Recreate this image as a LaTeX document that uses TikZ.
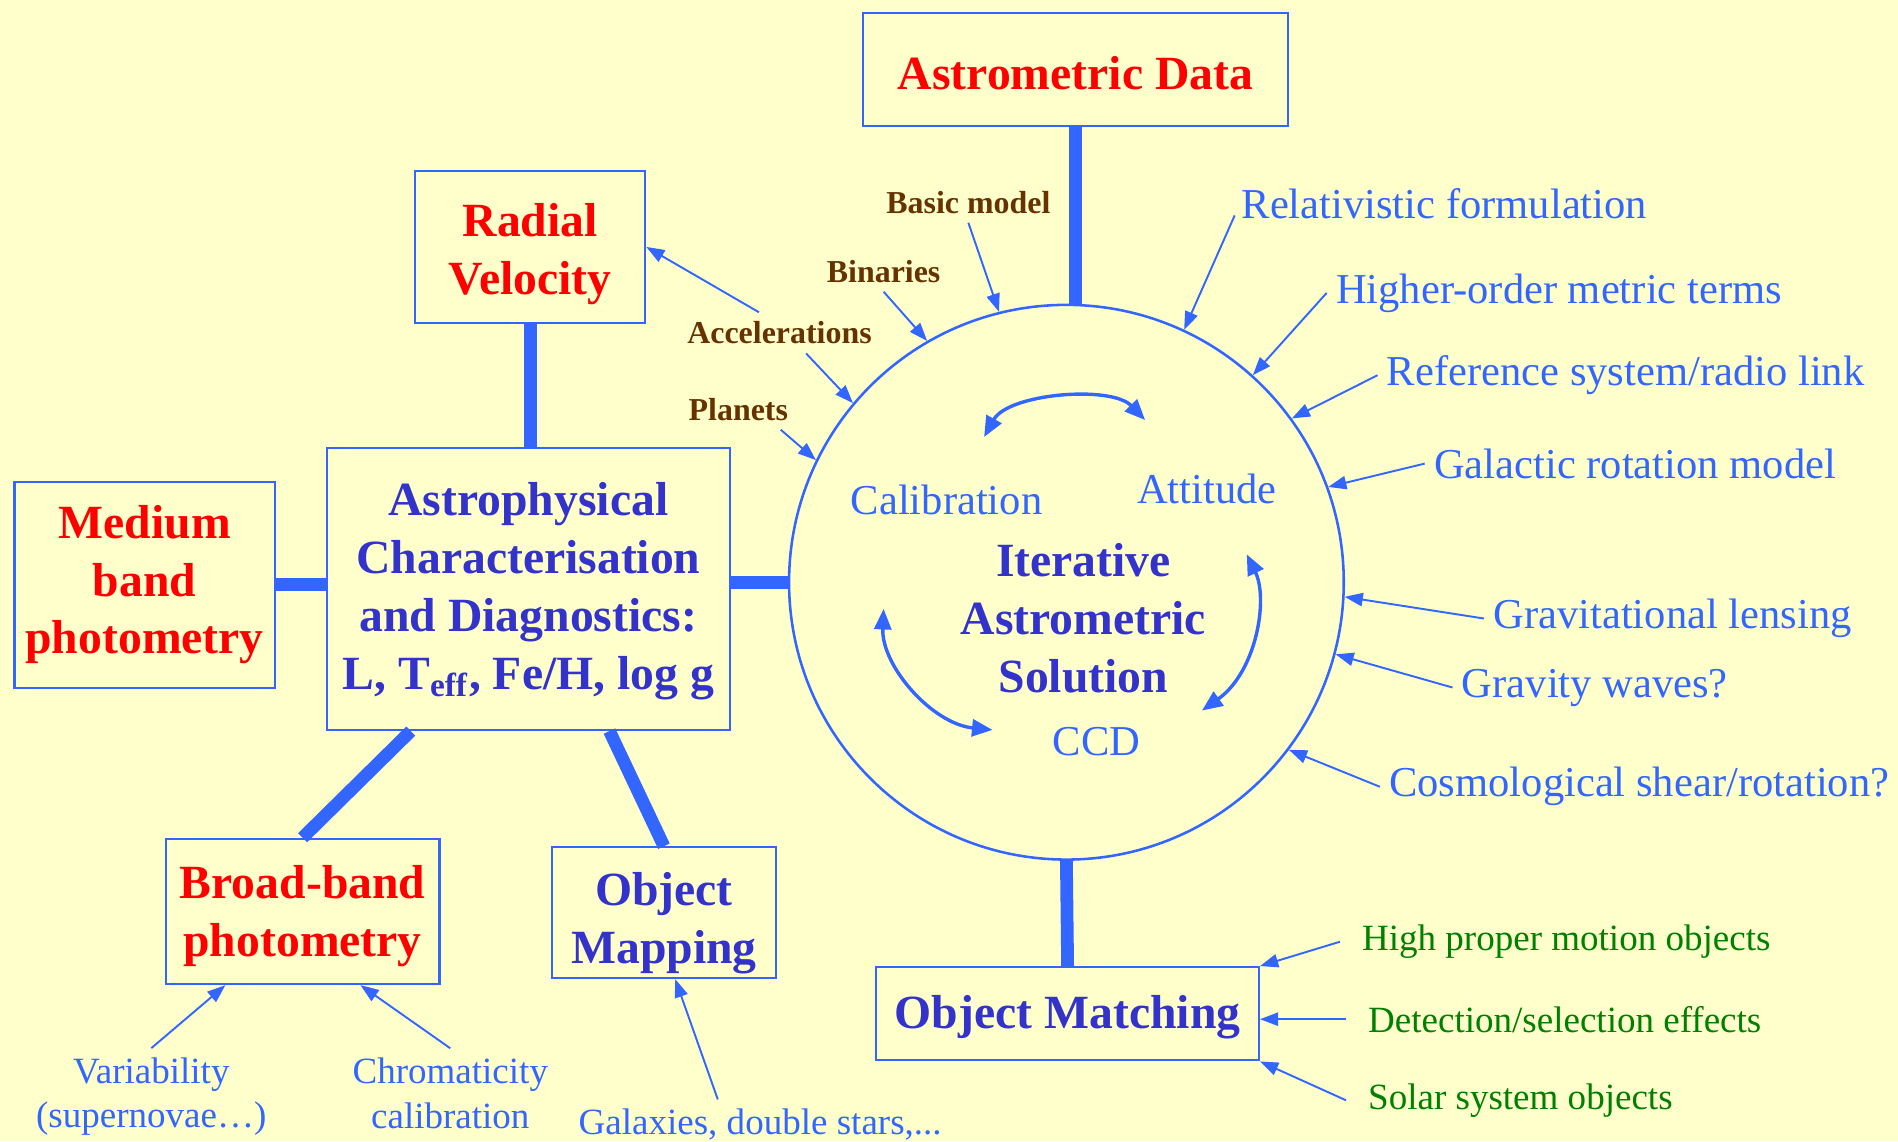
\documentclass[tikz,border=0pt]{standalone}
\usepackage{fontspec}
\setmainfont{Liberation Serif}
\usepackage{tikz}
\usetikzlibrary{arrows.meta,calc}

\definecolor{paper}{RGB}{255,255,204}
\definecolor{lineblue}{RGB}{51,102,255}
\definecolor{deepblue}{RGB}{51,51,204}
\definecolor{labelbrown}{RGB}{102,51,0}
\definecolor{labelgreen}{RGB}{0,128,0}

\newcommand{\boxfont}{\fontsize{11.2}{13.6}\selectfont\bfseries}
\newcommand{\sidefont}{\fontsize{10}{12}\selectfont}
\newcommand{\notefont}{\fontsize{8.7}{10.5}\selectfont}
\newcommand{\tagfont}{\fontsize{7.5}{9}\selectfont\bfseries}

\begin{document}
\begin{tikzpicture}[x=0.01cm, y=-0.01cm,
    box/.style={draw=lineblue, line width=0.5pt, align=center, inner sep=0pt, font=\boxfont},
    link/.style={lineblue, line width=3pt},
    feed/.style={lineblue, line width=0.45pt, -{Triangle[length=1.5mm,width=1.1mm]}},
    iterarrow/.style={lineblue, line width=0.8pt, {Triangle[length=1.7mm,width=1.4mm]}-{Triangle[length=1.7mm,width=1.4mm]}},
    side/.style={text=lineblue, font=\sidefont, anchor=west, inner sep=2pt},
    note/.style={text=lineblue, font=\notefont, align=center, inner sep=2pt},
    effect/.style={text=labelgreen, font=\notefont, anchor=west, inner sep=5pt},
    tag/.style={text=labelbrown, font=\tagfont, inner sep=2pt}]

    % Background
    \fill[paper] (0,0) rectangle (1568,943);
    \useasboundingbox (0,0) rectangle (1568,943);

    % Boxes
    \node[box, text=red, minimum width=3.51cm, minimum height=0.93cm, text height=9.3pt] (ad) at (888.5,57.5) {Astrometric Data};
    \node[box, text=red, minimum width=1.90cm, minimum height=1.26cm, text height=24.7pt] (rv) at (438,204) {Radial\\Velocity};
    \node[box, text=deepblue, minimum width=3.33cm, minimum height=2.33cm, text height=49.7pt] (ap) at (436.5,486.5)
        {Astrophysical\\Characterisation\\and Diagnostics:\\L, T\textsubscript{eff}, Fe/H, log g};
    \node[box, text=red, minimum width=2.15cm, minimum height=1.70cm] (mb) at (119.5,483) {Medium\\band\\photometry};
    \node[box, text=red, minimum width=2.26cm, minimum height=1.20cm, text height=23.5pt] (bb) at (250,753) {Broad-band\\photometry};
    \node[box, text=deepblue, minimum width=1.85cm, minimum height=1.08cm, text height=26.5pt] (omap) at (548.5,754) {Object\\Mapping};
    \node[box, text=deepblue, minimum width=3.16cm, minimum height=0.77cm, text height=9.4pt] (om) at (882,837.5) {Object Matching};

    % Solution circle and its contents
    \node[draw=lineblue, line width=0.6pt, circle, minimum size=4.58cm, inner sep=0pt] (sol) at (881,481) {};
    \node[text=deepblue, font=\boxfont, align=center] (ias) at (895,511) {Iterative\\Astrometric\\Solution};
    \node[text=lineblue, font=\sidefont] (cal) at (782,413) {Calibration};
    \node[text=lineblue, font=\sidefont] (att) at (997,404) {Attitude};
    \node[text=lineblue, font=\sidefont] (ccd) at (906,613) {CCD};

    % Iteration arrows
    \coordinate (topL) at (813,361);
    \coordinate (topR) at (946,347);
    \coordinate (lftT) at (730,503);
    \coordinate (lftB) at (820,603);
    \coordinate (rgtT) at (1030,458);
    \coordinate (rgtB) at (993,587);
    \draw[iterarrow] (topL) .. controls (833,325) and (918,318) .. (topR);
    \draw[iterarrow] (lftT) .. controls (728,550) and (770,598) .. (lftB);
    \draw[iterarrow] (rgtT) .. controls (1048,495) and (1038,555) .. (rgtB);

    % Thick links
    \draw[link] (ad.south) -- (ad.south |- sol.north);
    \draw[link] (sol.south) -- (om.north);
    \draw[link] (rv.south) -- (rv.south |- ap.north);
    \draw[link] (mb.east) -- (mb.east -| ap.west);
    \draw[link] (sol.west -| ap.east) -- (sol.west);
    \draw[link] ($(ap.south west)!0.21!(ap.south east)$) -- (bb.north);
    \draw[link] ($(ap.south west)!0.70!(ap.south east)$) -- (omap.north);

    % Model terms on the left of the circle
    \node[tag] (basic) at (800,167) {Basic model};
    \node[tag] (bin) at (730,224) {Binaries};
    \node[tag] (acc) at (644,275) {Accelerations};
    \node[tag] (pla) at (610,338) {Planets};
    \draw[feed] (basic.south) -- (sol.104);
    \draw[feed] (bin.south) -- (sol.120);
    \draw[feed] ($(acc.south)+(22,0)$) -- (sol.140);
    \draw[feed] ($(acc.north)+(-17,0)$) -- (rv.east);
    \draw[feed] ($(pla.south)+(35,0)$) -- (sol.154);

    % Terms on the right of the circle
    \node[side] (rel) at (1018,168) {Relativistic formulation};
    \node[side] (hom) at (1096,242) {Higher-order metric terms};
    \node[side] (ref) at (1138,310) {Reference system/radio link};
    \node[side] (gal) at (1177,383) {Galactic rotation model};
    \node[side] (lens) at (1226,511) {Gravitational lensing};
    \node[side] (wav) at (1200,568) {Gravity waves?};
    \node[side] (cos) at (1140,650) {Cosmological shear/rotation?};
    \draw[feed] ($(rel.west)+(2,10)$) -- (sol.65);
    \draw[feed] (hom.west) -- (sol.48);
    \draw[feed] (ref.west) -- (sol.36);
    \draw[feed] (gal.west) -- (sol.20);
    \draw[feed] (lens.west) -- (sol.-3);
    \draw[feed] (wav.west) -- (sol.-15);
    \draw[feed] (cos.west) -- (sol.-37);

    % Effects on object matching
    \node[effect] (hpm) at (1107,778) {High proper motion objects};
    \node[effect] (det) at (1112,842) {Detection/selection effects};
    \node[effect] (sso) at (1112,909) {Solar system objects};
    \draw[feed] (hpm.west) -- (om.north east);
    \draw[feed] (det.west) -- (det.west -| om.east);
    \draw[feed] (sso.west) -- (om.south east);

    % Notes below the photometry and mapping boxes
    \node[note] (var) at (125,906) {Variability\\(supernovae…)};
    \node[note] (chr) at (372,903) {Chromaticity\\calibration};
    \node[note] (galx) at (628,929) {Galaxies, double stars,...};
    \draw[feed] (var.north) -- ($(bb.south west)!0.22!(bb.south east)$);
    \draw[feed] (chr.north) -- ($(bb.south west)!0.71!(bb.south east)$);
    \draw[feed] ($(galx.north)+(-35,0)$) -- ($(omap.south west)!0.55!(omap.south east)$);

\end{tikzpicture}
\end{document}
